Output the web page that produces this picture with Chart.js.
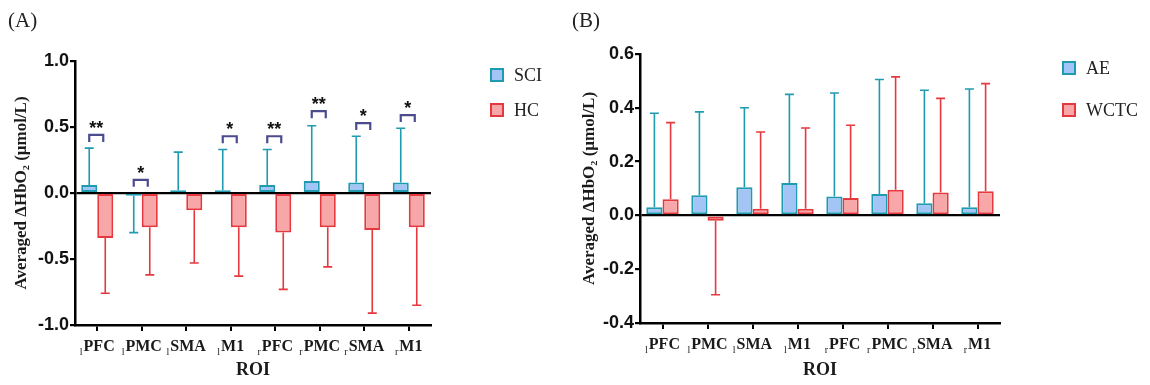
<!DOCTYPE html>
<html>
<head>
<meta charset="utf-8">
<script src="https://cdn.jsdelivr.net/npm/chart.js@4.4.1/dist/chart.umd.min.js"></script>
<style>
  body { margin: 0; background: #fff; }
  #wrap { position: relative; width: 1150px; height: 385px; display: flex; }
  canvas { display: block; }
  .tag { position: absolute; top: 8px; font: 21px "Liberation Serif", serif; color: #222; }
</style>
</head>
<body>
<div id="wrap">
  <canvas id="chartA" width="575" height="385"></canvas>
  <canvas id="chartB" width="575" height="385"></canvas>
  <div class="tag" style="left:8px">(A)</div>
  <div class="tag" style="left:572px">(B)</div>
</div>
<script>
// ROI categories; first letter is the hemisphere subscript
const categories = ['lPFC', 'lPMC', 'lSMA', 'lM1', 'rPFC', 'rPMC', 'rSMA', 'rM1'];

// panel A: SCI vs HC
const sciMean = [0.06, -0.02, 0.02, 0.02, 0.06, 0.09, 0.08, 0.08];
const sciSD = [0.28, 0.28, 0.29, 0.31, 0.27, 0.42, 0.35, 0.41];
const hcMean = [-0.34, -0.26, -0.13, -0.26, -0.30, -0.26, -0.28, -0.26];
const hcSD = [0.42, 0.36, 0.40, 0.37, 0.43, 0.30, 0.63, 0.59];
const sigMarks = ['**', '*', '', '*', '**', '**', '*', '*'];
const sigLevel = [0.44, 0.10, null, 0.43, 0.43, 0.62, 0.53, 0.59];
const ticksA = [-1.0, -0.5, 0.0, 0.5, 1.0];

// panel B: AE vs WCTC
const aeMean = [0.03, 0.075, 0.105, 0.12, 0.07, 0.08, 0.045, 0.03];
const aeSD = [0.35, 0.31, 0.295, 0.33, 0.385, 0.425, 0.42, 0.44];
const wctcMean = [0.06, -0.02, 0.025, 0.025, 0.065, 0.095, 0.085, 0.09];
const wctcSD = [0.285, 0.275, 0.285, 0.30, 0.27, 0.42, 0.35, 0.40];
const ticksB = [-0.4, -0.2, 0.0, 0.2, 0.4, 0.6];

const blueFill = '#a3c5f5', blueLine = '#1f9bb0';
const redFill = '#f7a7a7', redLine = '#e5393f';
const bracketColor = '#4b4b8e';

/* whiskers go from the bar end away from zero */
const errorBars = {
  id: 'errorBars',
  afterDatasetsDraw(chart) {
    const ctx = chart.ctx, y = chart.scales.y;
    chart.data.datasets.forEach((ds, di) => {
      const meta = chart.getDatasetMeta(di);
      ctx.save();
      ctx.strokeStyle = ds.borderColor;
      ctx.lineWidth = 1.6;
      meta.data.forEach((bar, i) => {
        const v = ds.data[i];
        const end = y.getPixelForValue(v < 0 ? v - ds.sd[i] : v + ds.sd[i]);
        ctx.beginPath();
        ctx.moveTo(bar.x, bar.y);
        ctx.lineTo(bar.x, end);
        ctx.moveTo(bar.x - 4.5, end);
        ctx.lineTo(bar.x + 4.5, end);
        ctx.stroke();
      });
      ctx.restore();
    });
  }
};

/* significance brackets between the two bars of a category */
const sigBrackets = {
  id: 'sigBrackets',
  afterDatasetsDraw(chart, args, opts) {
    if (!opts.marks) return;
    const ctx = chart.ctx, y = chart.scales.y;
    const m0 = chart.getDatasetMeta(0), m1 = chart.getDatasetMeta(1);
    ctx.save();
    opts.marks.forEach((mark, i) => {
      if (!mark) return;
      const x1 = m0.data[i].x, x2 = m1.data[i].x - 2;
      const yb = y.getPixelForValue(opts.levels[i]);
      ctx.strokeStyle = bracketColor;
      ctx.lineWidth = 2.2;
      ctx.beginPath();
      ctx.moveTo(x1, yb + 7);
      ctx.lineTo(x1, yb);
      ctx.lineTo(x2, yb);
      ctx.lineTo(x2, yb + 7);
      ctx.stroke();
      ctx.fillStyle = '#111';
      ctx.font = 'bold 18px "Liberation Sans"';
      ctx.textAlign = 'center';
      ctx.textBaseline = 'alphabetic';
      ctx.fillText(mark, (x1 + x2) / 2, yb - 1);
    });
    ctx.restore();
  }
};

/* category labels with the l / r prefix as a subscript */
const roiLabels = {
  id: 'roiLabels',
  afterDraw(chart) {
    const ctx = chart.ctx, x = chart.scales.x;
    const base = chart.chartArea.bottom + 26;
    ctx.save();
    ctx.fillStyle = '#1a1a1a';
    ctx.textBaseline = 'alphabetic';
    ctx.textAlign = 'left';
    chart.data.labels.forEach((lab, i) => {
      const side = lab[0], name = lab.slice(1);
      ctx.font = 'bold 16px "Liberation Serif"';
      const wn = ctx.measureText(name).width;
      ctx.font = '10px "Liberation Serif"';
      const ws = ctx.measureText(side).width;
      const x0 = x.getPixelForValue(i) - (ws + 1 + wn) / 2;
      ctx.fillText(side, x0, base + 4);
      ctx.font = 'bold 16px "Liberation Serif"';
      ctx.fillText(name, x0 + ws + 1, base);
    });
    ctx.restore();
  }
};

/* legend with square boxes at a fixed spot right of the plot */
const boxLegend = {
  id: 'boxLegend',
  afterDraw(chart, args, opts) {
    const ctx = chart.ctx;
    ctx.save();
    ctx.font = '18px "Liberation Serif"';
    ctx.textBaseline = 'middle';
    ctx.textAlign = 'left';
    chart.data.datasets.forEach((ds, i) => {
      const cy = opts.y + i * opts.gap;
      ctx.fillStyle = ds.backgroundColor;
      ctx.fillRect(opts.x, cy - 7, 14, 14);
      ctx.strokeStyle = ds.borderColor;
      ctx.lineWidth = 2;
      ctx.strokeRect(opts.x + 1, cy - 6, 12, 12);
      ctx.fillStyle = '#222';
      ctx.fillText(ds.label, opts.x + 24, cy + 1);
    });
    ctx.restore();
  }
};

function makeChart(id, sets, ticks, pad, yWidth, xHeight, titlePad, legendPos, sig) {
  return new Chart(document.getElementById(id), {
    type: 'bar',
    data: {
      labels: categories,
      datasets: sets.map(s => ({
        label: s.label,
        data: s.mean,
        sd: s.sd,
        backgroundColor: s.fill,
        borderColor: s.line,
        borderWidth: 2,
        borderSkipped: false,
        categoryPercentage: 0.72,
        barPercentage: 1.0
      }))
    },
    options: {
      responsive: false,
      animation: false,
      layout: { padding: pad },
      plugins: {
        legend: { display: false },
        tooltip: { enabled: false },
        boxLegend: legendPos,
        sigBrackets: sig
      },
      scales: {
        x: {
          offset: true,
          border: { color: '#000', width: 2.5 },
          grid: { display: true, drawOnChartArea: false, offset: false, color: '#000', lineWidth: 2, tickLength: 6 },
          ticks: { display: false },
          title: {
            display: true, text: 'ROI', color: '#1a1a1a',
            font: { family: 'Liberation Serif', size: 18, weight: 'bold' },
            padding: { top: 0, bottom: 4 }
          },
          afterFit: s => { s.height = xHeight; }
        },
        y: {
          min: ticks[0],
          max: ticks[ticks.length - 1],
          afterBuildTicks: s => { s.ticks = ticks.map(v => ({ value: v })); },
          border: { color: '#000', width: 2.5 },
          grid: {
            color: c => (c.tick && Math.abs(c.tick.value) < 1e-9 ? '#000' : 'rgba(0,0,0,0)'),
            tickColor: '#000',
            lineWidth: 2.2,
            tickLength: 5
          },
          ticks: {
            color: '#111',
            padding: 1,
            font: { family: 'Liberation Sans', size: 18, weight: 'bold' },
            callback: v => v.toFixed(1)
          },
          title: {
            display: true, text: 'Averaged ΔHbO₂ (μmol/L)', color: '#1a1a1a',
            font: { family: 'Liberation Serif', size: 17, weight: 'bold' },
            padding: { top: titlePad, bottom: 0 }
          },
          afterFit: s => { s.width = yWidth; }
        }
      }
    },
    plugins: [errorBars, sigBrackets, roiLabels, boxLegend]
  });
}

makeChart('chartA', [
  { label: 'SCI', mean: sciMean, sd: sciSD, fill: blueFill, line: blueLine },
  { label: 'HC', mean: hcMean, sd: hcSD, fill: redFill, line: redLine }
], ticksA, { left: 8, right: 144, top: 61, bottom: 0 }, 67, 60, 3,
  { x: 490, y: 75, gap: 35 }, { marks: sigMarks, levels: sigLevel });

makeChart('chartB', [
  { label: 'AE', mean: aeMean, sd: aeSD, fill: blueFill, line: blueLine },
  { label: 'WCTC', mean: wctcMean, sd: wctcSD, fill: redFill, line: redLine }
], ticksB, { left: 2, right: 150, top: 54, bottom: 0 }, 63, 62, 2,
  { x: 487, y: 68, gap: 42 }, {});
</script>
</body>
</html>
